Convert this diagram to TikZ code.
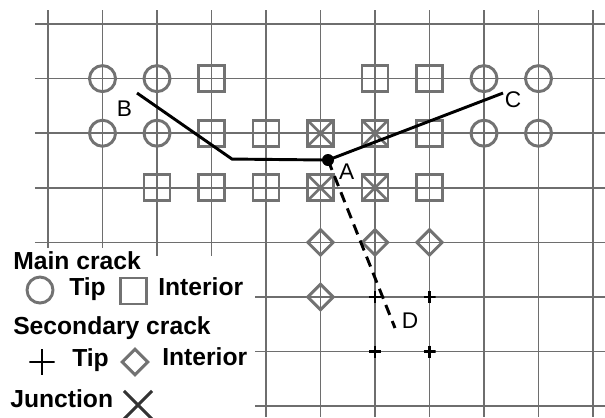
\documentclass[tikz,border=0pt]{standalone}
\usepackage{fontspec}
\setmainfont{Liberation Sans}
\usetikzlibrary{shapes.geometric,shapes.misc}
\definecolor{GridGray}{HTML}{6E6E6E}
\definecolor{MarkGray}{HTML}{727272}
\tikzset{
  gridline/.style={GridGray, line width=1.25pt},
  tipmark/.style={circle, draw=MarkGray, line width=2.2pt, minimum size=19.5pt, inner sep=0pt},
  innermark/.style={rectangle, draw=MarkGray, line width=2.2pt, minimum size=19.5pt, inner sep=0pt},
  junctionmark/.style={innermark, path picture={
    \draw[MarkGray, line width=2pt] (path picture bounding box.north west) -- (path picture bounding box.south east)
      (path picture bounding box.north east) -- (path picture bounding box.south west);}},
  secinner/.style={diamond, aspect=1, draw=MarkGray, line width=2.2pt, minimum size=20pt, inner sep=0pt},
  sectip/.style={minimum size=9pt, inner sep=0pt, path picture={
    \draw[black, line width=1.8pt] (path picture bounding box.west) -- (path picture bounding box.east)
      (path picture bounding box.north) -- (path picture bounding box.south);}},
  legplus/.style={minimum size=19pt, inner sep=0pt, path picture={
    \draw[black, line width=1.1pt] (path picture bounding box.west) -- (path picture bounding box.east)
      (path picture bounding box.north) -- (path picture bounding box.south);}},
  legcross/.style={cross out, draw=black!80, line width=2.2pt, minimum size=19pt, inner sep=0pt},
  crack/.style={black, line width=2.2pt},
  ptlabel/.style={font=\fontsize{17}{20}\selectfont, inner sep=0pt},
  legtext/.style={font=\fontsize{18.5}{22}\selectfont\bfseries, anchor=base west, inner sep=0pt},
}

\begin{document}
\begin{tikzpicture}[x=40.875pt, y=-40.95pt]
  \useasboundingbox (-0.881,-0.44) rectangle (10.22,7.198);

  % grid
  \foreach \row in {0,...,4} {
    \draw[gridline] (-0.239,\row) -- (10.22,\row);
  }
  \foreach \row in {5,6,7} {
    \draw[gridline] (3.80,\row) -- (10.22,\row);
  }
  \foreach \col/\bot in {0/4.1,1/4.1,2/4.25,3/4.25} {
    \draw[gridline] (\col,-0.256) -- (\col,\bot);
  }
  \foreach \col in {4,...,10} {
    \draw[gridline] (\col,-0.256) -- (\col,7.2);
  }

  % main crack nodes
  \foreach \c/\r in {1/1,2/1,8/1,9/1,1/2,2/2,8/2,9/2} {
    \node[tipmark] (tip-\c-\r) at (\c,\r) {};
  }
  \foreach \c/\r in {3/1,6/1,7/1,3/2,4/2,7/2,2/3,3/3,4/3,7/3} {
    \node[innermark] (int-\c-\r) at (\c,\r) {};
  }
  \foreach \c/\r in {5/2,6/2,5/3,6/3} {
    \node[junctionmark] (jun-\c-\r) at (\c,\r) {};
  }

  % secondary crack nodes
  \foreach \c/\r in {5/4,6/4,7/4,5/5} {
    \node[secinner] (sin-\c-\r) at (\c,\r) {};
  }
  \foreach \c/\r in {6/5,7/5,6/6,7/6} {
    \node[sectip] (stip-\c-\r) at (\c,\r) {};
  }

  % cracks
  \coordinate (B) at (1.633,1.264);
  \coordinate (bend) at (3.376,2.473);
  \coordinate (A) at (5.138,2.491);
  \coordinate (C) at (8.349,1.264);
  \coordinate (D) at (6.367,5.568);
  \draw[crack] (B) -- (bend) -- (A) -- (C);
  \draw[crack, dash pattern=on 8pt off 5pt] (A) -- (D);
  \fill (A) circle (4.5pt);

  \node[ptlabel] (labB) at (1.404,1.548) {B};
  \node[ptlabel] (labA) at (5.481,2.705) {A};
  \node[ptlabel] (labC) at (8.532,1.383) {C};
  \node[ptlabel] (labD) at (6.642,5.430) {D};

  % legend
  \node[legtext] (mainhead) at (-0.642,4.487) {Main crack};
  \node[tipmark] (legtip) at (-0.147,4.872) {};
  \node[legtext] (legtiptxt) at (0.385,4.963) {Tip};
  \node[innermark] (legint) at (1.560,4.890) {};
  \node[legtext] (leginttxt) at (2.018,4.963) {Interior};
  \node[legtext] (sechead) at (-0.642,5.678) {Secondary crack};
  \node[legplus] (legstip) at (-0.110,6.190) {};
  \node[legtext] (legstiptxt) at (0.440,6.264) {Tip};
  \node[secinner] (legsin) at (1.596,6.190) {};
  \node[legtext] (legsintxt) at (2.092,6.245) {Interior};
  \node[legtext] (junhead) at (-0.697,7.015) {Junction};
  \node[legcross] (legjun) at (1.651,6.978) {};
\end{tikzpicture}
\end{document}
